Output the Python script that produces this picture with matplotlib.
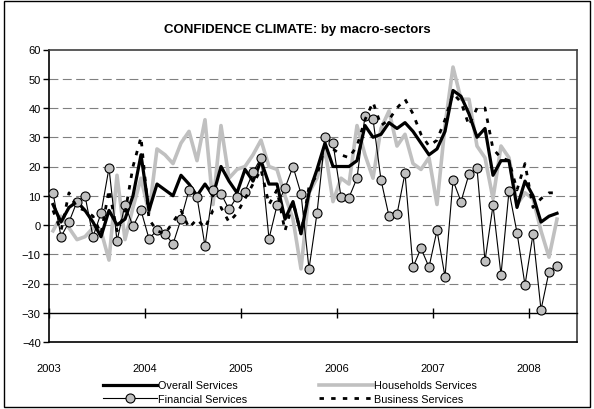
import numpy as np
import matplotlib
matplotlib.use("Agg")
import matplotlib.pyplot as plt
from matplotlib.patches import Rectangle

plt.rcParams['font.family'] = ['Liberation Sans', 'DejaVu Sans']

# monthly values, Jan 2003 .. Apr 2008
YEARS = ["2003", "2004", "2005", "2006", "2007", "2008"]

overall = [7, 1, 6, 8, 5, 1, -4, 5, 0, 2, 10, 24,
           5, 14, 12, 10, 17, 14, 10, 14, 10, 20, 15, 11,
           19, 15, 22, 14, 14, 2, 8, -3, 11, 19, 28, 20,
           20, 20, 22, 34, 30, 31, 35, 33, 35, 32, 28, 24,
           26, 32, 46, 44, 38, 30, 33, 17, 22, 22, 6, 15,
           10, 1, 3, 4]

households = [-2, 3, -1, -5, -4, -1, -2, -12, 17, -5, 6, 16,
              4, 26, 24, 21, 28, 32, 22, 36, 7, 34, 16, 19,
              20, 24, 29, 20, 19, 10, 2, -15, 11, 16, 26, 8,
              16, 14, 34, 24, 16, 33, 39, 27, 31, 21, 19, 23,
              7, 34, 54, 43, 43, 27, 23, 9, 27, 23, 7, 11,
              9, -2, -11, 2]

financial = [11, -4, 1, 8, 10, -4, 4, 19.5, -5.5, 7, -0.5, 5,
             -4.7, -1.8, -3, -6.5, 2, 12, 9.6, -7.2, 12, 10.7, 5.4, 9.6,
             11.4, 18, 23, -4.7, 6.7, 12.6, 20, 10.7, -15, 4, 30, 28,
             9.6, 9.4, 16, 37.3, 36.2, 15.4, 3, 3.7, 17.7, -14.4, -8, -14.4,
             -1.8, -17.7, 15.3, 8, 17.4, 19.4, -12.3, 6.7, -17, 11.6, -2.6, -20.5,
             -3.2, -29, -16, -14]

business = [5, -2, 11, 6, 5, 3, -3, 12, -2, 4, 20, 30,
            2, -2, -3, 1, 5, -1, 2, -1, 5, 6, 1, 4,
            9, 14, 19, 7, 12, -2, 8, -3, 13, 17, 27, 26,
            24, 23, 27, 36, 42, 34, 36, 40, 43, 38, 31, 27,
            29, 36, 45, 42, 34, 40, 40, 26, 23, 22, 12, 21,
            6, 9, 11, 11]

x = np.arange(len(overall)) + 0.5

fig = plt.figure(figsize=(5.94, 4.10), dpi=100)
ax = fig.add_axes([49 / 594, 1 - 343 / 410, 528 / 594, 292.5 / 410])

# dashed grid lines
for v in range(-20, 60, 10):
    ax.axhline(v, color="#808080", lw=0.8, dashes=(8, 4), zorder=0)

ax.plot(x, households, color="#c0c0c0", lw=2.6, zorder=2, label="Households Services")
ax.plot(x, overall, color="black", lw=2.3, zorder=3, label="Overall Services")
ax.plot(x, financial, color="black", lw=0.8, marker="o", markersize=6.5,
        markerfacecolor="#c0c0c0", markeredgecolor="black", markeredgewidth=0.8,
        zorder=4, label="Financial Services")
ax.plot(x, business, color="black", lw=2.0, dashes=(1.6, 2.6), zorder=5,
        label="Business Services")

ax.set_xlim(0, 66)
ax.set_ylim(-40, 60)
ax.set_yticks(range(-40, 61, 10))
ax.set_xticks(range(0, 66, 12))
ax.set_xticklabels(YEARS)

# category axis crosses at -30, labels stay below the plot area
ax.spines['bottom'].set_position(('data', -30))
ax.spines['bottom'].set_linewidth(1.0)
ax.spines['left'].set_linewidth(1.2)
for s in ['top', 'right']:
    ax.spines[s].set_color("#404040")
    ax.spines[s].set_linewidth(1.2)
ax.axhline(-40, color="black", lw=1.2, clip_on=False, zorder=6)

ax.tick_params(axis='x', direction='inout', length=7, width=1, pad=33, labelsize=8)
ax.tick_params(axis='y', direction='out', length=4, width=1, labelsize=8, pad=2)

fig.text(0.5, 1 - 30 / 410, "CONFIDENCE CLIMATE: by macro-sectors",
         ha="center", va="center", fontsize=9.5, fontweight="bold")

h, l = ax.get_legend_handles_labels()
order = [1, 2, 0, 3]
fig.legend([h[i] for i in order], [l[i] for i in order], ncol=2,
           loc="center left", bbox_to_anchor=(103 / 594, 1 - 393 / 410), frameon=False,
           fontsize=7.8, handlelength=5.0, handletextpad=0.1,
           columnspacing=6.6, labelspacing=0.3, borderpad=0, borderaxespad=0)

# outer chart frame
fig.patches.append(Rectangle((0.006, 0.006), 0.988, 0.988, transform=fig.transFigure,
                             fill=False, edgecolor="black", lw=1.0))

fig.savefig("out.png", dpi=100)
